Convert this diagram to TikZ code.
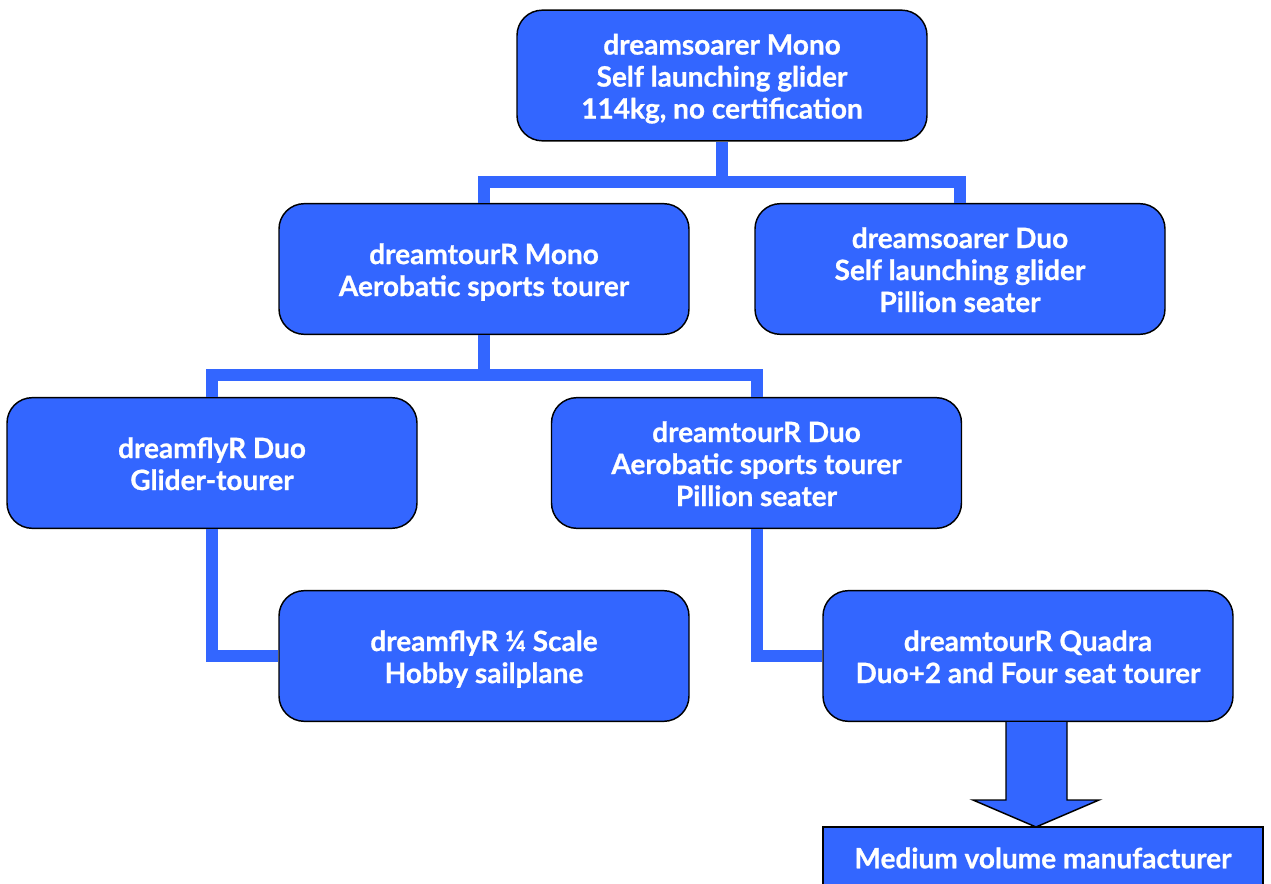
\documentclass[tikz,border=0pt]{standalone}
\usepackage{fontspec}
\setmainfont{Lato}[BoldFeatures={FakeBold=0.8}]
\usepackage{xcolor}
\usepackage{tikz}
\usetikzlibrary{positioning,arrows.meta}

\definecolor{dreamblue}{RGB}{51,102,255}

% lines of a box, set a little low in it
\newcommand{\boxtext}[1]{\raisebox{-3.5pt}[\height][\depth]{\begin{tabular}{@{}c@{}}#1\end{tabular}}}

\begin{document}
\begin{tikzpicture}[
    x=0.75pt, y=-0.75pt,
    box/.style={
        rectangle,
        rounded corners=19pt,
        draw,
        line width=1.1pt,
        fill=dreamblue,
        text=white,
        align=center,
        minimum width=307.5pt,
        minimum height=98pt,
        font=\fontsize{21}{24}\selectfont\bfseries
    },
    link/.style={
        draw=dreamblue,
        line width=9pt
    },
    bigarrow/.style={
        fill=dreamblue,
        draw,
        line width=1.1pt
    }
]
\useasboundingbox (0,0) rectangle (1271,884);
\clip (0,0) rectangle (1271,884);

\node[box] (mono) at (722,75.5)
{\boxtext{dreamsoarer Mono\\Self launching glider\\
114kg, no certification}};

\node[box] (tourmono) at (484,269)
{\boxtext{dreamtourR Mono\\Aerobatic sports tourer}};

\node[box] (soarduo) at (960,269)
{\boxtext{dreamsoarer Duo\\Self launching glider\\
Pillion seater}};

\node[box] (flyduo) at (212,463)
{\boxtext{dreamflyR Duo\\Glider-tourer}};

\node[box] (tourduo) at (756.5,463)
{\boxtext{dreamtourR Duo\\Aerobatic sports tourer\\
Pillion seater}};

\node[box] (flyquarter) at (484,656)
{\boxtext{dreamflyR ¼ Scale\\Hobby sailplane}};

\node[box] (quadra) at (1028,656)
{\boxtext{dreamtourR Quadra\\Duo+2 and Four seat tourer}};

\node[box, rounded corners=0pt, minimum width=330pt, minimum height=46.5pt] (maker) at (1043,858)
{Medium volume manufacturer};

\coordinate (hub1) at (722,182);
\coordinate (hub2) at (484,375);

\draw[link] (mono.south) -- (hub1);
\draw[link] (tourmono.north) |- (hub1) -| (soarduo.north);
\draw[link] (tourmono.south) -- (hub2);
\draw[link] (flyduo.north) |- (hub2) -| (tourduo.north);
\draw[link] (flyduo.south) |- (flyquarter.west);
\draw[link] (tourduo.south) |- (quadra.west);

\filldraw[bigarrow] (1006,722) -- (1006,800) -- (973,800) -- (1036,827)
    -- (1099,800) -- (1067,800) -- (1067,722);

\end{tikzpicture}
\end{document}
